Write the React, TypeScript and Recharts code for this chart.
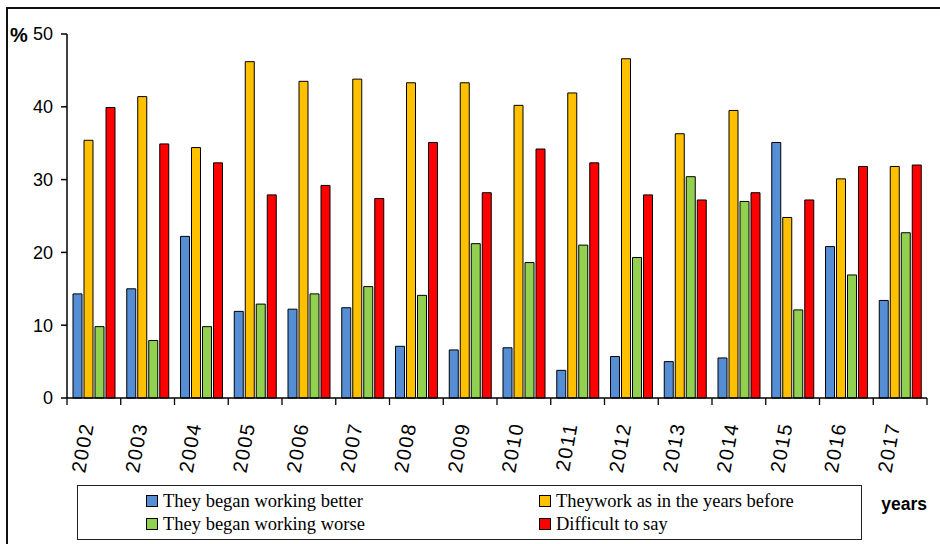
import { BarChart, Bar, XAxis, YAxis, Legend } from 'recharts'

const years = ['2002', '2003', '2004', '2005', '2006', '2007', '2008', '2009', '2010', '2011', '2012', '2013', '2014', '2015', '2016', '2017']
const better = [14.3, 15.0, 22.2, 11.9, 12.2, 12.4, 7.1, 6.6, 6.9, 3.8, 5.7, 5.0, 5.5, 35.1, 20.8, 13.4]
const same = [35.4, 41.4, 34.4, 46.2, 43.5, 43.8, 43.3, 43.3, 40.2, 41.9, 46.6, 36.3, 39.5, 24.8, 30.1, 31.8]
const worse = [9.8, 7.9, 9.8, 12.9, 14.3, 15.3, 14.1, 21.2, 18.6, 21.0, 19.3, 30.4, 27.0, 12.1, 16.9, 22.7]
const unsure = [39.9, 34.9, 32.3, 27.9, 29.2, 27.4, 35.1, 28.2, 34.2, 32.3, 27.9, 27.2, 28.2, 27.2, 31.8, 32.0]
const yTicks = [0, 10, 20, 30, 40, 50]

const series = [
  { key: 'better', name: 'They began working better', color: '#558ed5' },
  { key: 'same', name: 'Theywork as in the years before', color: '#ffc000' },
  { key: 'worse', name: 'They began working worse', color: '#92d050' },
  { key: 'unsure', name: 'Difficult to say', color: '#ff0000' },
]

const data = years.map((year, i) => ({
  year,
  better: better[i],
  same: same[i],
  worse: worse[i],
  unsure: unsure[i],
}))

const W = 940
const H = 544
const MARGIN = { top: 34, right: 13, left: 7, bottom: 46 }
const Y_AXIS_W = 60
const BAND = (W - MARGIN.left - Y_AXIS_W - MARGIN.right) / years.length
const SANS = 'Arial, "Liberation Sans", sans-serif'
const SERIF = '"Times New Roman", "Liberation Serif", serif'

function YearTick(props: any) {
  const { x, y, payload, index } = props
  const half = BAND / 2
  const ty = y + 26
  return (
    <g>
      <line x1={x - half} y1={y} x2={x - half} y2={y + 7} stroke="#000" strokeWidth={1.3} />
      {index === years.length - 1 && (
        <line x1={x + half} y1={y} x2={x + half} y2={y + 7} stroke="#000" strokeWidth={1.3} />
      )}
      <text
        x={x}
        y={ty}
        transform={`rotate(-80 ${x} ${ty})`}
        textAnchor="end"
        fontSize={20}
        letterSpacing={1.5}
        fontFamily={SANS}
        fill="#000"
      >
        {payload.value}
      </text>
    </g>
  )
}

function LegendBox(props: any) {
  const items = [...(props.payload ?? [])].sort(
    (a, b) => series.findIndex(s => s.key === a.dataKey) - series.findIndex(s => s.key === b.dataKey)
  )
  return (
    <div
      style={{
        position: 'relative',
        width: 785,
        height: 55,
        boxSizing: 'border-box',
        border: '1.5px solid #222',
        background: '#fff',
      }}
    >
      {items.map((entry, i) => (
        <div
          key={entry.value}
          style={{
            position: 'absolute',
            left: i % 2 ? 461 : 68,
            top: Math.floor(i / 2) * 22.5 + 5,
            display: 'flex',
            alignItems: 'center',
            whiteSpace: 'nowrap',
            fontFamily: SERIF,
            fontSize: 18.5,
            lineHeight: '20px',
            color: '#000',
          }}
        >
          <span
            style={{
              display: 'inline-block',
              width: 10,
              height: 10,
              background: entry.color,
              border: '1px solid #000',
              marginRight: 5,
            }}
          />
          {entry.value}
        </div>
      ))}
    </div>
  )
}

export default function App() {
  return (
    <div style={{ position: 'absolute', left: 0, top: 0, width: W, height: H, overflow: 'hidden', background: '#fff' }}>
      <div
        style={{
          position: 'absolute',
          left: 6,
          top: 7,
          width: 1000,
          height: 1000,
          border: '2px solid #111',
        }}
      />
      <BarChart
        width={W}
        height={H}
        data={data}
        margin={MARGIN}
        barCategoryGap={6}
        barGap={2}
        style={{ position: 'absolute', left: 0, top: 0 }}
      >
        <XAxis
          dataKey="year"
          height={100}
          interval={0}
          tickLine={false}
          tickSize={0}
          tickMargin={0}
          axisLine={{ stroke: '#000', strokeWidth: 1.5 }}
          tick={<YearTick />}
          label={{
            content: ({ viewBox }: any) => (
              <text
                x={viewBox.x + viewBox.width}
                y={viewBox.y + 112}
                textAnchor="end"
                fontSize={17.5}
                fontWeight="bold"
                fontFamily={SANS}
                fill="#000"
              >
                years
              </text>
            ),
          }}
        />
        <YAxis
          width={Y_AXIS_W}
          domain={[0, 50]}
          ticks={yTicks}
          tickSize={6}
          tickMargin={8}
          axisLine={{ stroke: '#000', strokeWidth: 1.5 }}
          tickLine={{ stroke: '#000', strokeWidth: 1.5 }}
          tick={{ fontSize: 18, fill: '#000', fontFamily: SANS }}
          label={{
            content: ({ viewBox }: any) => (
              <text x={viewBox.x + 3} y={viewBox.y + 8} fontSize={20} fontWeight="bold" fontFamily={SANS} fill="#000">
                %
              </text>
            ),
          }}
        />
        <Legend
          layout="horizontal"
          verticalAlign="middle"
          align="center"
          wrapperStyle={{ left: 77, top: 485, width: 785, height: 55 }}
          content={<LegendBox />}
        />
        {series.map(s => (
          <Bar
            key={s.key}
            dataKey={s.key}
            name={s.name}
            fill={s.color}
            stroke="#000"
            strokeWidth={1}
            isAnimationActive={false}
          />
        ))}
      </BarChart>
    </div>
  )
}
